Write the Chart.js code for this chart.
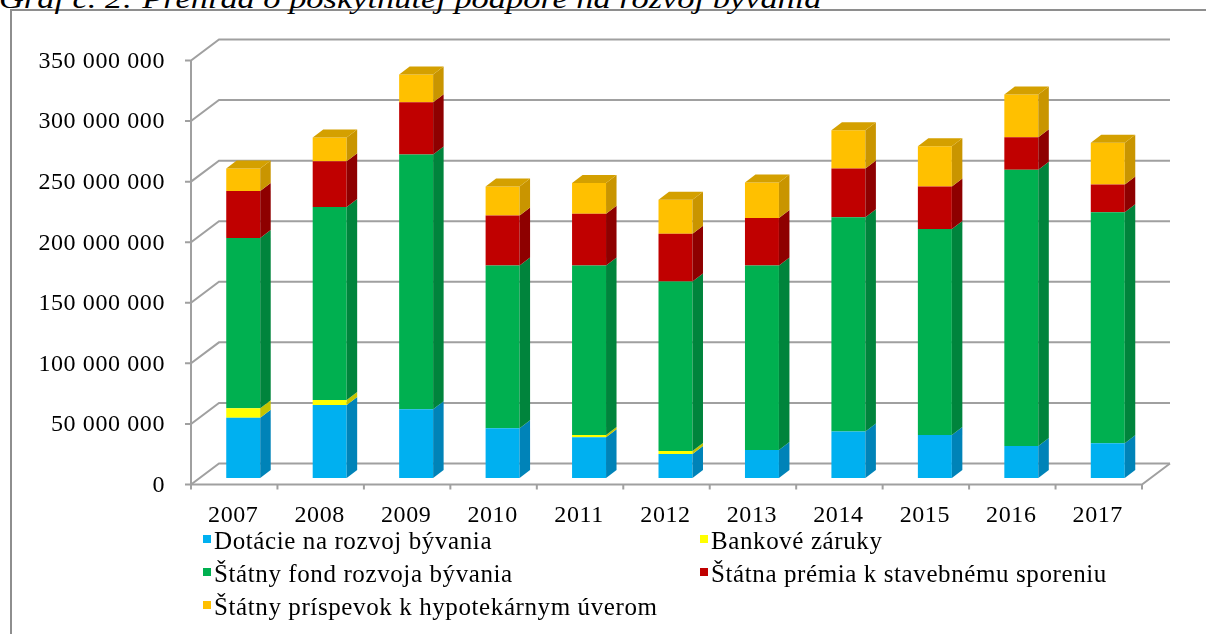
<!DOCTYPE html>
<html>
<head>
<meta charset="utf-8">
<script src="https://cdn.jsdelivr.net/npm/chart.js@4.4.0/dist/chart.umd.min.js"></script>
<style>
  body { margin: 0; background: #fff; width: 1206px; height: 634px; overflow: hidden; position: relative; }
  #frame { position: absolute; left: 10px; top: 9px; width: 1300px; height: 700px; border-left: 2px solid #8e8e8e; border-top: 2px solid #8e8e8e; }
  #title { position: absolute; left: -1px; top: -17px; font: italic 28px "Liberation Serif", serif; white-space: nowrap; transform-origin: 0 0; color: #000; }
  #chart { position: absolute; left: 0; top: 0; }
  .item { position: absolute; height: 33px; line-height: 33px; font: 25px "Liberation Serif", serif; letter-spacing: 0.6px; white-space: nowrap; color: #000; }
  .item i { display: inline-block; width: 8px; height: 8px; vertical-align: 6px; margin-right: 3px; }
</style>
</head>
<body>
<div id="frame"></div>
<div id="title">Graf č. 2: Prehľad o poskytnutej podpore na rozvoj bývania</div>
<canvas id="chart" width="1206" height="634"></canvas>
<div id="legend"></div>
<script>
'use strict';

// data (EUR)
var years = ['2007', '2008', '2009', '2010', '2011', '2012', '2013', '2014', '2015', '2016', '2017'];
var seriesNames = ['Dotácie na rozvoj bývania', 'Bankové záruky', 'Štátny fond rozvoja bývania', 'Štátna prémia k stavebnému sporeniu', 'Štátny príspevok k hypotekárnym úverom'];
var dotacie   = [49800000, 60300000, 56800000, 41000000, 33600000, 19800000, 23100000, 38300000, 35500000, 26400000, 28700000];
var zaruky    = [7800000, 4100000, 0, 0, 1900000, 2500000, 0, 0, 0, 0, 0];
var sfrb      = [140500000, 159300000, 210200000, 134400000, 139900000, 139900000, 152300000, 176900000, 170000000, 228100000, 190600000];
var premia    = [38800000, 37800000, 43200000, 41300000, 42700000, 39400000, 39200000, 40200000, 35200000, 26700000, 22900000];
var prispevok = [18500000, 19600000, 22900000, 24000000, 25400000, 28100000, 29400000, 31700000, 33100000, 35300000, 34500000];
var yTicks = [0, 50000000, 100000000, 150000000, 200000000, 250000000, 300000000, 350000000];

var faceColors = ['#00b0f0', '#ffff00', '#00b050', '#c00000', '#ffc000'];
var sideColors = ['#0083b8', '#c4c400', '#00843c', '#8e0000', '#c99500'];
var topColors  = ['#33c0f3', '#ffff66', '#22a85a', '#a80000', '#d4a000'];

// fake 3D offsets
var DEPTH_X = 10.5, DEPTH_Y = 8;
var FRONT_X = -9, FRONT_Y = 6.5, BACK_X = 19, BACK_Y = -14.5;

function fmt(v) {
  return String(v).replace(/\B(?=(\d{3})+(?!\d))/g, ' ');
}

var walls = {
  id: 'walls',
  beforeDraw: function (chart) {
    chart.ctx.letterSpacing = '0.6px';
  },
  beforeDatasetsDraw: function (chart) {
    var ctx = chart.ctx, ys = chart.scales.y, a = chart.chartArea;
    var fl = a.left + FRONT_X, fr = a.right + FRONT_X, bl = a.left + BACK_X, br = a.right + BACK_X;
    ctx.save();
    ctx.strokeStyle = '#a0a0a0';
    ctx.lineWidth = 2;
    yTicks.forEach(function (v) {
      var p = ys.getPixelForValue(v);
      ctx.beginPath();
      ctx.moveTo(fl - 6, p + FRONT_Y);
      ctx.lineTo(fl, p + FRONT_Y);
      ctx.lineTo(bl, p + BACK_Y);
      ctx.lineTo(br, p + BACK_Y);
      ctx.stroke();
    });
    var y0 = ys.getPixelForValue(0), yTop = ys.getPixelForValue(yTicks[yTicks.length - 1]);
    // front value axis
    ctx.beginPath();
    ctx.moveTo(fl, yTop + FRONT_Y);
    ctx.lineTo(fl, y0 + FRONT_Y);
    // floor front edge and right side
    ctx.lineTo(fr, y0 + FRONT_Y);
    ctx.lineTo(br, y0 + BACK_Y);
    ctx.stroke();
    // category ticks on the front edge
    var step = (a.right - a.left) / years.length;
    for (var i = 0; i <= years.length; i++) {
      var x = fl + i * step;
      ctx.beginPath();
      ctx.moveTo(x, y0 + FRONT_Y);
      ctx.lineTo(x, y0 + FRONT_Y + 5);
      ctx.stroke();
    }
    ctx.restore();
  },
  afterDatasetsDraw: function (chart) {
    var ctx = chart.ctx;
    var sets = chart.data.datasets;
    ctx.save();
    sets.forEach(function (ds, di) {
      var meta = chart.getDatasetMeta(di);
      meta.data.forEach(function (bar) {
        var p = bar.getProps(['x', 'y', 'base', 'width'], true);
        var t = Math.min(p.y, p.base), b = Math.max(p.y, p.base), r = p.x + p.width / 2;
        if (b - t < 0.5) return;
        ctx.fillStyle = sideColors[di];
        ctx.beginPath();
        ctx.moveTo(r, b);
        ctx.lineTo(r + DEPTH_X, b - DEPTH_Y);
        ctx.lineTo(r + DEPTH_X, t - DEPTH_Y);
        ctx.lineTo(r, t);
        ctx.closePath();
        ctx.fill();
      });
    });
    // top face on the highest segment of every stack
    for (var i = 0; i < years.length; i++) {
      for (var di = sets.length - 1; di >= 0; di--) {
        if (sets[di].data[i] > 0) {
          var p = chart.getDatasetMeta(di).data[i].getProps(['x', 'y', 'width'], true);
          var l = p.x - p.width / 2, r = p.x + p.width / 2;
          ctx.fillStyle = topColors[di];
          ctx.beginPath();
          ctx.moveTo(l, p.y);
          ctx.lineTo(l + DEPTH_X, p.y - DEPTH_Y);
          ctx.lineTo(r + DEPTH_X, p.y - DEPTH_Y);
          ctx.lineTo(r, p.y);
          ctx.closePath();
          ctx.fill();
          break;
        }
      }
    }
    ctx.restore();
  }
};

var seriesData = [dotacie, zaruky, sfrb, premia, prispevok];

var chart = new Chart(document.getElementById('chart').getContext('2d'), {
  type: 'bar',
  data: {
    labels: years,
    datasets: seriesData.map(function (d, i) {
      return {
        label: seriesNames[i],
        data: d,
        backgroundColor: faceColors[i],
        borderWidth: 0,
        barPercentage: 0.393,
        categoryPercentage: 1
      };
    })
  },
  options: {
    responsive: false,
    animation: false,
    layout: { padding: { left: 0, right: 55, top: 54, bottom: 0 } },
    plugins: {
      legend: { display: false },
      tooltip: { enabled: false }
    },
    scales: {
      x: {
        stacked: true,
        grid: { display: false, drawTicks: false },
        border: { display: false },
        ticks: {
          color: '#000',
          font: { family: 'Liberation Serif', size: 24 },
          padding: 23,
          labelOffset: -10,
          maxRotation: 0
        },
        afterFit: function (scale) { scale.height = 156; }
      },
      y: {
        stacked: true,
        min: 0,
        max: yTicks[yTicks.length - 1],
        grid: { display: false, drawTicks: false },
        border: { display: false },
        ticks: {
          stepSize: 50000000,
          color: '#000',
          font: { family: 'Liberation Serif', size: 24 },
          padding: 35,
          labelOffset: 7.5,
          callback: function (v) { return fmt(v); }
        },
        afterFit: function (scale) { scale.width = 200; }
      }
    }
  },
  plugins: [walls]
});
chart.draw();

// legend in two columns, built from the chart datasets
var legend = document.getElementById('legend');
var colX = [203, 700], rowTop = [527, 560, 593];
chart.data.datasets.forEach(function (ds, i) {
  var el = document.createElement('div');
  el.className = 'item';
  el.style.left = colX[i % 2] + 'px';
  el.style.top = rowTop[Math.floor(i / 2)] + 'px';
  el.innerHTML = '<i style="background:' + ds.backgroundColor + '"></i>' + ds.label;
  legend.appendChild(el);
});

// title is cut at the top edge, stretched like the picture
var title = document.getElementById('title');
title.style.transform = 'scaleX(' + (823 / title.offsetWidth) + ')';
</script>
</body>
</html>
